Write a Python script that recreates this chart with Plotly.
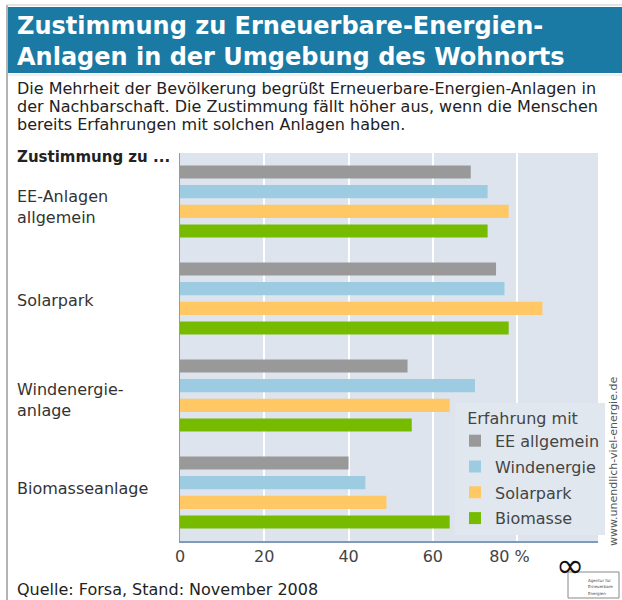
import plotly.graph_objects as go

# ---- data ----
categories = ["EE-Anlagen allgemein", "Solarpark", "Windenergieanlage", "Biomasseanlage"]
category_labels = ["EE-Anlagen<br>allgemein", "Solarpark", "Windenergie-<br>anlage", "Biomasseanlage"]
series_names = ["EE allgemein", "Windenergie", "Solarpark", "Biomasse"]
ee_allgemein = [69, 75, 54, 40]
windenergie = [73, 77, 70, 44]
solarpark = [78, 86, 64, 49]
biomasse = [73, 78, 55, 64]
series_values = [ee_allgemein, windenergie, solarpark, biomasse]
series_colors = ["#999999", "#9ccbe2", "#ffc865", "#76bb00"]
tick_values = [0, 20, 40, 60, 80]
tick_labels = ["0", "20", "40", "60", "80 %\u00a0\u00a0\u00a0"]

title_lines = ["Zustimmung zu Erneuerbare-Energien-", "Anlagen in der Umgebung des Wohnorts"]
desc_lines = [
    "Die Mehrheit der Bevölkerung begrüßt Erneuerbare-Energien-Anlagen in",
    "der Nachbarschaft. Die Zustimmung fällt höher aus, wenn die Menschen",
    "bereits Erfahrungen mit solchen Anlagen haben.",
]
logo_lines = ["Agentur für", "Erneuerbare", "Energien"]

FONT = "DejaVu Sans"
W, H = 622, 600
L, R, T, B = 180, 598, 153, 541
label_shift = [-5, -2, -4, 4]


def px(x):
    return (x - L) / (R - L)


def py(y):
    return (B - y) / (B - T)


fig = go.Figure()
for name, vals, col in zip(series_names, series_values, series_colors):
    fig.add_trace(go.Bar(
        y=categories, x=vals, name=name, orientation="h",
        marker=dict(color=col, line=dict(width=0)),
        legendgroup=name, hoverinfo="x+name",
    ))

annotations = []
# title
for t, yc in zip(title_lines, [26, 57]):
    annotations.append(dict(text="<b>" + t + "</b>", x=px(15), y=py(yc), xref="paper", yref="paper",
                            xanchor="left", yanchor="middle", showarrow=False,
                            font=dict(family=FONT, size=24, color="white")))
# description
for t, yc in zip(desc_lines, [89, 106.5, 124]):
    annotations.append(dict(text=t, x=px(15), y=py(yc), xref="paper", yref="paper",
                            xanchor="left", yanchor="middle", showarrow=False,
                            font=dict(family=FONT, size=16, color="#222222")))
# header of categories
annotations.append(dict(text="<b>Zustimmung zu ...</b>", x=px(15), y=py(157), xref="paper", yref="paper",
                        xanchor="left", yanchor="middle", showarrow=False,
                        font=dict(family=FONT, size=15, color="#222222")))
# category labels
for c, lab, ys in zip(categories, category_labels, label_shift):
    annotations.append(dict(text=lab, x=px(15), y=c, xref="paper", yref="y",
                            xanchor="left", yanchor="middle", align="left", showarrow=False,
                            yshift=ys,
                            font=dict(family=FONT, size=16, color="#333333")))
# source
annotations.append(dict(text="Quelle: Forsa, Stand: November 2008", x=px(15), y=py(589), xref="paper", yref="paper",
                        xanchor="left", yanchor="middle", showarrow=False,
                        font=dict(family=FONT, size=16, color="#222222")))
# url vertical
annotations.append(dict(text="www.unendlich-viel-energie.de", x=px(613), y=py(462), xref="paper", yref="paper",
                        xanchor="center", yanchor="middle", textangle=-90, showarrow=False,
                        font=dict(family=FONT, size=11, color="#555555")))
# logo
annotations.append(dict(text="∞", x=px(570), y=py(565), xref="paper", yref="paper",
                        xanchor="center", yanchor="middle", showarrow=False,
                        font=dict(family=FONT, size=34, color="#111111")))
for t, yc in zip(logo_lines, [580, 586.5, 593]):
    annotations.append(dict(text=t, x=px(587), y=py(yc), xref="paper", yref="paper",
                            xanchor="left", yanchor="middle", showarrow=False, borderpad=0,
                            font=dict(family=FONT, size=4, color="#444444")))

shapes = [
    # header box
    dict(type="rect", xref="paper", yref="paper", x0=px(7), x1=px(630), y0=py(7), y1=py(73),
         fillcolor="#1b7aa3", line=dict(width=0), layer="below"),
    # frame lines
    dict(type="line", xref="paper", yref="paper", x0=px(7), x1=px(7), y0=py(5), y1=py(605),
         line=dict(color="#b4b4b4", width=2)),
    dict(type="line", xref="paper", yref="paper", x0=px(7), x1=px(630), y0=py(5), y1=py(5),
         line=dict(color="#c8c8c8", width=1)),
    dict(type="line", xref="paper", yref="paper", x0=px(8), x1=px(630), y0=py(75), y1=py(75),
         line=dict(color="#dddddd", width=1)),
    # logo box
    dict(type="rect", xref="paper", yref="paper", x0=px(568), x1=px(619), y0=py(572), y1=py(598),
         fillcolor="white", line=dict(color="#888888", width=1)),
]

fig.update_layout(
    width=W, height=H,
    margin=dict(l=L, r=W - R, t=T, b=H - B, pad=0),
    paper_bgcolor="white",
    plot_bgcolor="#dde4ee",
    barmode="group", bargap=0.19, bargroupgap=0.33,
    font=dict(family=FONT, size=16, color="#444444"),
    showlegend=True,
    legend=dict(
        x=px(455), y=py(403), xanchor="left", yanchor="top",
        bgcolor="#e1e7ef", borderwidth=0,
        title=dict(text="\u00a0\u00a0Erfahrung mit", font=dict(family=FONT, size=16, color="#444444")),
        font=dict(family=FONT, size=16, color="#444444"),
        traceorder="grouped", tracegroupgap=2,
    ),
    xaxis=dict(
        range=[0, 99.2], tickvals=tick_values, ticktext=tick_labels,
        showgrid=True, gridcolor="white", gridwidth=2, zeroline=False,
        showline=True, linecolor="#7d9bba", linewidth=2,
        tickfont=dict(family=FONT, size=16, color="#444444"), ticks="",
        fixedrange=True,
    ),
    yaxis=dict(
        categoryorder="array", categoryarray=categories, autorange="reversed",
        showticklabels=False, showgrid=False, zeroline=False,
        showline=True, linecolor="#8a9db3", linewidth=1, ticks="",
        fixedrange=True,
    ),
    annotations=annotations,
    shapes=shapes,
)

fig.write_html(
    "out.html",
    config={"displayModeBar": False},
    post_script="document.body.style.margin='0';document.body.style.overflow='hidden';",
)
